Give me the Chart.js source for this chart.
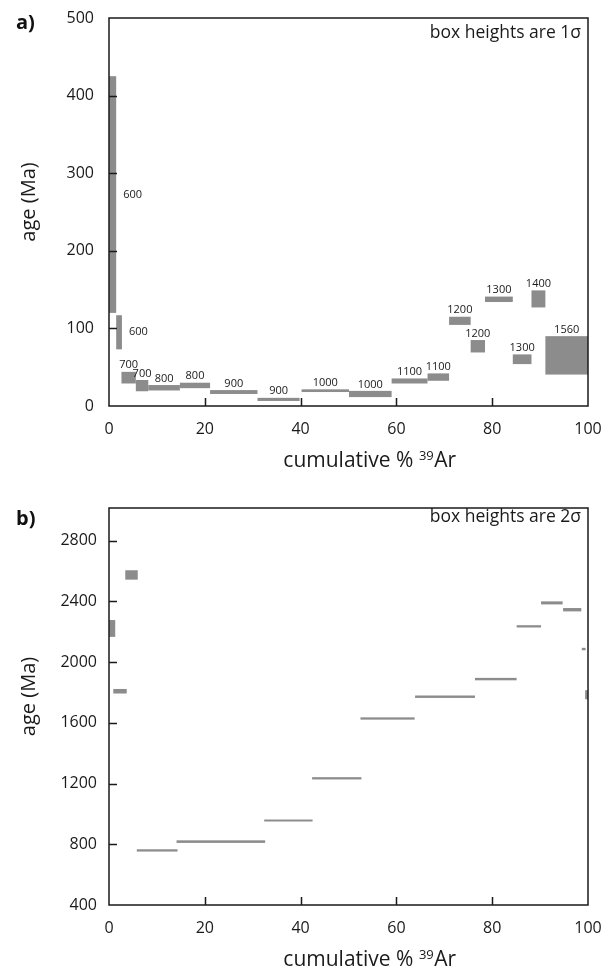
<!DOCTYPE html>
<html>
<head>
<meta charset="utf-8">
<script src="https://cdn.jsdelivr.net/npm/chart.js@4.4.1/dist/chart.umd.min.js"></script>
<style>
  html, body { margin: 0; padding: 0; background: #fff; }
  body { width: 604px; height: 971px; position: relative; overflow: hidden; }
  .wrap { position: absolute; left: 0; width: 604px; }
  #wrapA { top: 0; height: 485px; }
  #wrapB { top: 485px; height: 486px; }
  .tag { position: absolute; left: 16px; font: bold 20px/20px 'Open Sans', sans-serif; color: #111; }
</style>
</head>
<body>
<div class="wrap" id="wrapA"><canvas id="chartA"></canvas></div>
<div class="wrap" id="wrapB"><canvas id="chartB"></canvas></div>
<div class="tag" style="top:12px">a)</div>
<div class="tag" style="top:508px">b)</div>
<script>
/* ===== DATA: panel a (box heights 1 sigma) ===== */
const stepStartA = [0, 1.5, 2.6, 5.6, 8.2, 14.8, 21.1, 31.0, 40.2, 50.1, 59.0, 66.5, 71.0, 75.5, 78.5, 84.3, 88.2, 91.1];
const stepEndA   = [1.5, 2.7, 5.6, 8.2, 14.8, 21.1, 31.0, 39.8, 50.1, 59.0, 66.5, 71.0, 75.5, 78.5, 84.3, 88.2, 91.1, 100];
const ageLowA    = [120, 73, 29, 19, 20, 23, 15.5, 6.5, 18, 11.5, 29, 32.5, 104.5, 69, 134, 54, 127, 40.5];
const ageHighA   = [425, 117, 44, 33.5, 27, 30, 20.5, 10.5, 21.5, 19.5, 35.5, 42, 115, 85, 141, 66.5, 149, 90];
const stepTempA  = ['600', '600', '700', '700', '800', '800', '900', '900', '1000', '1000',
                    '1100', '1100', '1200', '1200', '1300', '1300', '1400', '1560'];
const labelSideA = ['right', 'right', 'top', 'top', 'top', 'top', 'top', 'top', 'top', 'top',
                    'top', 'top', 'top', 'top', 'top', 'top', 'top', 'top'];
const yTicksA = [0, 100, 200, 300, 400, 500];

/* ===== DATA: panel b (box heights 2 sigma) ===== */
const stepStartB = [0, 0.9, 3.4, 5.8, 14.1, 32.4, 42.4, 52.5, 63.9, 76.4, 85.1, 90.2, 94.8, 98.7, 99.4];
const stepEndB   = [1.3, 3.7, 6.0, 14.3, 32.6, 42.5, 52.7, 63.8, 76.4, 85.1, 90.2, 94.7, 98.6, 99.5, 100];
const ageLowB    = [2166, 1793, 2543, 752, 809, 950, 1227, 1621, 1764, 1880, 2228, 2380, 2334, 2078, 1755];
const ageHighB   = [2277, 1823, 2605, 767, 826, 963, 1242, 1636, 1780, 1896, 2243, 2400, 2356, 2094, 1815];
const yTicksB = [400, 800, 1200, 1600, 2000, 2400, 2800];

const xTicks = [0, 20, 40, 60, 80, 100];

const BOX_GREY = '#8c8c8c';
const INK = '#1a1a1a';
const FONT = "'Open Sans', sans-serif";

/* ===== BOXES + TEMPERATURE LABELS ===== */
function stepsPlugin(starts, ends, lows, highs, temps, sides) {
  return {
    id: 'steps',
    beforeDatasetsDraw(chart) {
      const { ctx, chartArea: ca, scales: { x, y } } = chart;
      ctx.save();
      ctx.beginPath();
      ctx.rect(ca.left, ca.top, ca.width, ca.height);
      ctx.clip();
      ctx.fillStyle = BOX_GREY;
      starts.forEach((s, i) => {
        const x0 = x.getPixelForValue(s), x1 = x.getPixelForValue(ends[i]);
        const y0 = y.getPixelForValue(highs[i]), y1 = y.getPixelForValue(lows[i]);
        ctx.fillRect(x0, y0, x1 - x0, Math.max(y1 - y0, 1.5));
      });
      ctx.restore();
      if (!temps) return;
      ctx.save();
      ctx.fillStyle = INK;
      ctx.font = '11px ' + FONT;
      temps.forEach((t, i) => {
        const x0 = x.getPixelForValue(starts[i]), x1 = x.getPixelForValue(ends[i]);
        const y0 = y.getPixelForValue(highs[i]), y1 = y.getPixelForValue(lows[i]);
        if (sides[i] === 'right') {
          ctx.textAlign = 'left';
          ctx.textBaseline = 'middle';
          ctx.fillText(t, x1 + 7, (y0 + y1) / 2);
        } else {
          ctx.textAlign = 'center';
          ctx.textBaseline = 'bottom';
          ctx.fillText(t, (x0 + x1) / 2, y0 - 1);
        }
      });
      ctx.restore();
    }
  };
}

/* ===== FRAME, INWARD TICK MARKS, AXIS TITLES, NOTE ===== */
function framePlugin(yMarks, note, noteDy) {
  return {
    id: 'frame',
    afterDraw(chart) {
      const { ctx, chartArea: ca, scales: { x, y } } = chart;
      ctx.save();
      ctx.strokeStyle = INK;
      ctx.lineWidth = 1.5;
      ctx.strokeRect(ca.left, ca.top, ca.width, ca.height);
      ctx.beginPath();
      [20, 40, 60, 80].forEach(v => {
        const px = Math.round(x.getPixelForValue(v)) + 0.5;
        ctx.moveTo(px, ca.bottom);
        ctx.lineTo(px, ca.bottom - 8);
      });
      yMarks.forEach(v => {
        const py = Math.round(y.getPixelForValue(v)) + 0.5;
        ctx.moveTo(ca.left, py);
        ctx.lineTo(ca.left + 8, py);
      });
      ctx.stroke();

      ctx.fillStyle = INK;
      ctx.font = '17.5px ' + FONT;
      ctx.textAlign = 'right';
      ctx.textBaseline = 'middle';
      ctx.fillText(note, ca.right - 7, ca.top + noteDy);

      // x title with superscript 39
      const main = 'cumulative % ', sup = '39', tail = 'Ar';
      ctx.font = '21px ' + FONT;
      const w1 = ctx.measureText(main).width, w3 = ctx.measureText(tail).width;
      ctx.font = '13px ' + FONT;
      const w2 = ctx.measureText(sup).width;
      let tx = ca.left + ca.width / 2 + 21 - (w1 + w2 + w3) / 2;
      const base = ca.bottom + 61;
      ctx.textAlign = 'left';
      ctx.textBaseline = 'alphabetic';
      ctx.font = '21px ' + FONT;
      ctx.fillText(main, tx, base);
      tx += w1;
      ctx.font = '13px ' + FONT;
      ctx.fillText(sup, tx, base - 7);
      tx += w2 + 0.5;
      ctx.font = '21px ' + FONT;
      ctx.fillText(tail, tx, base);

      // y title
      ctx.translate(29, ca.top + ca.height / 2 - 10);
      ctx.rotate(-Math.PI / 2);
      ctx.textAlign = 'center';
      ctx.textBaseline = 'middle';
      ctx.font = '20px ' + FONT;
      ctx.fillText('age (Ma)', 0, 0);
      ctx.restore();
    }
  };
}

function makeOptions(yMin, yMax, yTicks, yPad, xAxisHeight, padTop) {
  return {
    responsive: true,
    maintainAspectRatio: false,
    animation: false,
    events: [],
    layout: { padding: { left: 0, right: 16, top: padTop, bottom: 0 } },
    plugins: { legend: { display: false }, tooltip: { enabled: false } },
    scales: {
      x: {
        type: 'linear',
        min: 0, max: 100,
        afterBuildTicks: axis => { axis.ticks = xTicks.map(v => ({ value: v })); },
        afterFit: axis => {
          axis.height = xAxisHeight;
          axis.paddingLeft = 0;
          axis.paddingRight = 0;
        },
        grid: { display: false, drawTicks: false },
        border: { display: false },
        ticks: { padding: 14, color: INK, font: { family: FONT, size: 16 }, callback: v => String(v) }
      },
      y: {
        type: 'linear',
        min: yMin, max: yMax,
        afterBuildTicks: axis => { axis.ticks = yTicks.map(v => ({ value: v })); },
        afterFit: axis => {
          axis.width = 109;
          axis.paddingTop = 0;
          axis.paddingBottom = 0;
        },
        grid: { display: false, drawTicks: false },
        border: { display: false },
        ticks: { padding: yPad, color: INK, font: { family: FONT, size: 16 }, callback: v => String(v) }
      }
    }
  };
}

/* ===== PANEL A ===== */
new Chart(document.getElementById('chartA'), {
  type: 'scatter',
  data: { datasets: [{ data: [], pointRadius: 0 }] },
  options: makeOptions(0, 500, yTicksA, 15, 79, 18),
  plugins: [
    stepsPlugin(stepStartA, stepEndA, ageLowA, ageHighA, stepTempA, labelSideA),
    framePlugin([100, 200, 300, 400], 'box heights are 1σ', 15)
  ]
});

/* ===== PANEL B ===== */
new Chart(document.getElementById('chartB'), {
  type: 'scatter',
  data: { datasets: [{ data: [], pointRadius: 0 }] },
  options: makeOptions(400, 3015, yTicksB, 12, 66, 23),
  plugins: [
    stepsPlugin(stepStartB, stepEndB, ageLowB, ageHighB, null, null),
    framePlugin([800, 1200, 1600, 2000, 2400, 2800], 'box heights are 2σ', 9)
  ]
});
</script>
</body>
</html>
